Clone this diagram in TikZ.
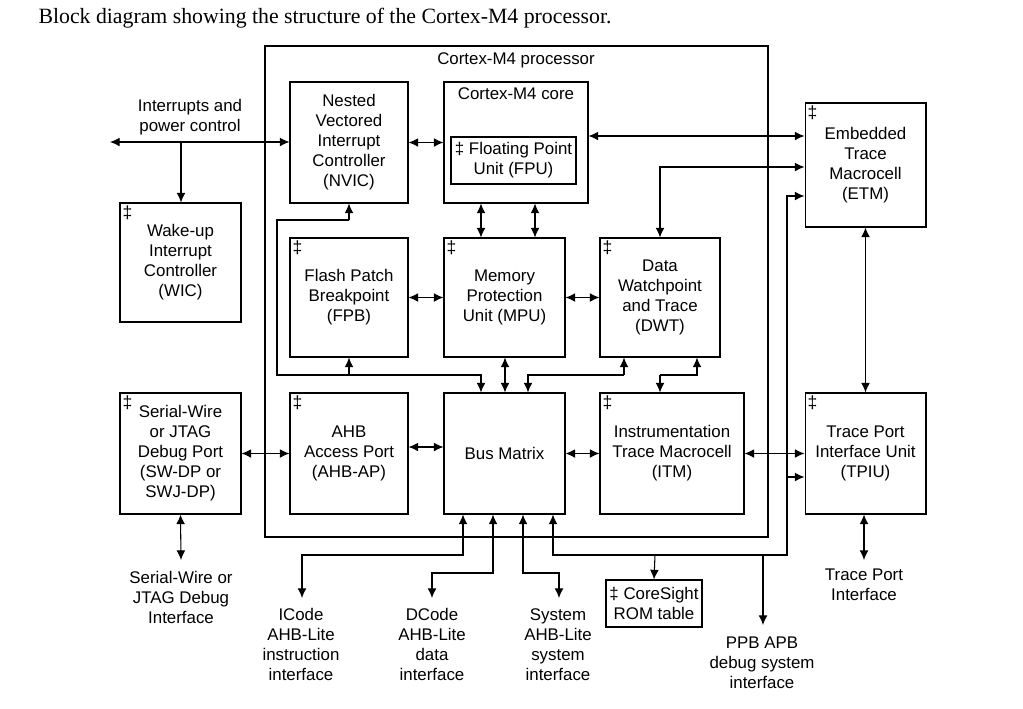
\documentclass[tikz,border=0pt]{standalone}
\usepackage{fontspec}
\setmainfont{Liberation Sans}
\newfontfamily\capfont{Liberation Serif}
\usetikzlibrary{positioning,arrows.meta}

\begin{document}
\begin{tikzpicture}[x=0.02cm,y=-0.02cm,>={Latex[length=5.5pt,width=5pt]},line width=0.6pt,
  font=\fontsize{9.6}{11.4}\selectfont,
  blk/.style={draw,align=center,inner sep=0pt},
  dagmark/.style={anchor=north west,inner sep=1.5pt,font=\fontsize{10}{10}\selectfont},
  lbl/.style={align=center,inner sep=0pt}]
  % Fenêtre
  \useasboundingbox (0,0) rectangle (1023,708);
  \node[anchor=west,inner sep=0pt,font=\capfont\fontsize{12.4}{14}\selectfont] (cap) at (38,18)
    {Block diagram showing the structure of the Cortex-M4 processor.};

  % Processeur
  \draw (265,46) rectangle (768,537);
  \node[lbl] (ptitle) at (516,60) {Cortex-M4 processor};

  % Blocs internes
  \node[blk,minimum width=2.36cm,minimum height=2.42cm] (nvic) at (349,142.5)
    {Nested\\Vectored\\Interrupt\\Controller\\(NVIC)};
  \node[blk,minimum width=2.88cm,minimum height=2.42cm] (core) at (516,142.5) {};
  \node[lbl] (ctitle) at (516,94) {Cortex-M4 core};
  \node[blk,minimum width=2.5cm,minimum height=0.94cm] (fpu) at (513.5,160.5)
    {\ddag\ Floating Point\\Unit (FPU)};
  \node[blk,minimum width=2.36cm,minimum height=2.38cm] (fpb) at (349,297.5)
    {Flash Patch\\Breakpoint\\(FPB)};
  \node[blk,minimum width=2.42cm,minimum height=2.38cm] (mpu) at (504.5,297.5)
    {Memory\\Protection\\Unit (MPU)};
  \node[blk,minimum width=2.4cm,minimum height=2.38cm] (dwt) at (660,297.5)
    {Data\\Watchpoint\\and Trace\\(DWT)};
  \node[blk,minimum width=2.36cm,minimum height=2.42cm] (ahbap) at (349,453.5)
    {AHB\\Access Port\\(AHB-AP)};
  \node[blk,minimum width=2.42cm,minimum height=2.42cm] (bm) at (504.5,453.5)
    {Bus Matrix};
  \node[blk,minimum width=2.88cm,minimum height=2.42cm] (itm) at (672,453.5)
    {Instrumentation\\Trace Macrocell\\(ITM)};

  % Blocs externes
  \node[blk,minimum width=2.42cm,minimum height=2.38cm] (wic) at (180.5,262.5)
    {Wake-up\\Interrupt\\Controller\\(WIC)};
  \node[blk,minimum width=2.42cm,minimum height=2.42cm] (swdp) at (180.5,453.5)
    {Serial-Wire\\or JTAG\\Debug Port\\(SW-DP or\\SWJ-DP)};
  \node[blk,minimum width=2.42cm,minimum height=2.48cm] (etm) at (865.5,165)
    {Embedded\\Trace\\Macrocell\\(ETM)};
  \node[blk,minimum width=2.42cm,minimum height=2.42cm] (tpiu) at (865.5,453.5)
    {Trace Port\\Interface Unit\\(TPIU)};
  \node[blk,minimum width=1.92cm,minimum height=0.94cm] (rom) at (654,603.5)
    {\ddag\ CoreSight\\ROM table};

  % Marques
  \foreach \b in {fpb,mpu,dwt,ahbap,itm,wic,swdp,etm,tpiu}
    \node[dagmark] at (\b.north west) {\ddag};

  % Textes libres
  \node[lbl] (irq) at (190,117.5) {Interrupts and\\power control};
  \node[lbl] (swj) at (181,597) {Serial-Wire or\\JTAG Debug\\Interface};
  \node[lbl] (icode) at (301,644.5) {ICode\\AHB-Lite\\instruction\\interface};
  \node[lbl] (dcode) at (432,644.5) {DCode\\AHB-Lite\\data\\interface};
  \node[lbl] (sys) at (558,644.5) {System\\AHB-Lite\\system\\interface};
  \node[lbl] (ppb) at (762,662.5) {PPB APB\\debug system\\interface};
  \node[lbl] (tport) at (864,585) {Trace Port\\Interface};

  % Points libres
  \coordinate (irqL) at (110,142);
  \coordinate (irqJ) at (181,142);
  \coordinate (swjT) at (181,560);
  \coordinate (tpT) at (864,560);
  \coordinate (icT) at (302,598);
  \coordinate (dcT) at (432,598);
  \coordinate (syT) at (559,598);
  \coordinate (ppT) at (763,625);

  % Interruptions
  \draw[<->] (irqL) -- (nvic.west |- irqL);
  \draw[->] (irqJ) -- (wic.north -| irqJ);
  \draw[<->] (nvic.east |- core.west) -- (core.west);
  \draw[<->] (swdp.east) -- (ahbap.west);
  \draw[<->] (swdp.south) -- (swjT);
  \draw[<->] (tpiu.south -| tpT) -- (tpT);
  \draw[<->] (etm.south -| tpiu.north) -- (tpiu.north);

  % Coeur vers MPU et ETM
  \draw[<->] (core.south -| 481,0) -- (mpu.north -| 481,0);
  \draw[<->] (core.south -| 535,0) -- (mpu.north -| 535,0);
  \draw[<->] (core.east |- 0,136) -- (etm.west |- 0,136);
  \draw[<->] (dwt.north -| 660,0) |- (etm.west |- 0,167);
  \draw[<->] (fpb.east) -- (mpu.west);
  \draw[<->] (mpu.east) -- (dwt.west);
  \draw[<->] (bm.east) -- (itm.west);
  \draw[<->] (ahbap.east |- 0,447) -- (bm.west |- 0,447);
  \draw[<->] (itm.east) -- (tpiu.west);

  % Bus de debug
  \draw[->] (349,220) -- (nvic.south);
  \draw (349,220) -| (277,375) -- (349,375);
  \draw[->] (349,375) -- (fpb.south);
  \draw[->] (349,375) -| (bm.north -| 481,0);
  \draw[<->] (mpu.south -| 505,0) -- (bm.north -| 505,0);
  \draw[<-] (bm.north -| 528,0) |- (624,375);
  \draw[->] (624,375) -- (dwt.south -| 624,0);
  \draw[<-] (dwt.south -| 697,0) |- (660,375);
  \draw[->] (660,375) -- (itm.north -| 660,0);

  % Ports AHB
  \draw[<->] (bm.south -| 463,0) |- (302,555) -- (icT);
  \draw[<->] (bm.south -| 493,0) |- (432,573) -- (dcT);
  \draw[<->] (bm.south -| 523,0) |- (559,573) -- (syT);
  \draw[<->] (bm.south -| 553,0) |- (787,555) -- (787,196) -- (etm.west |- 0,196);
  \draw[->] (787,477) -- (tpiu.west |- 0,477);
  \draw[->] (655,555) -- (rom.north);
  \draw[->] (763,555) -- (ppT);
\end{tikzpicture}
\end{document}
